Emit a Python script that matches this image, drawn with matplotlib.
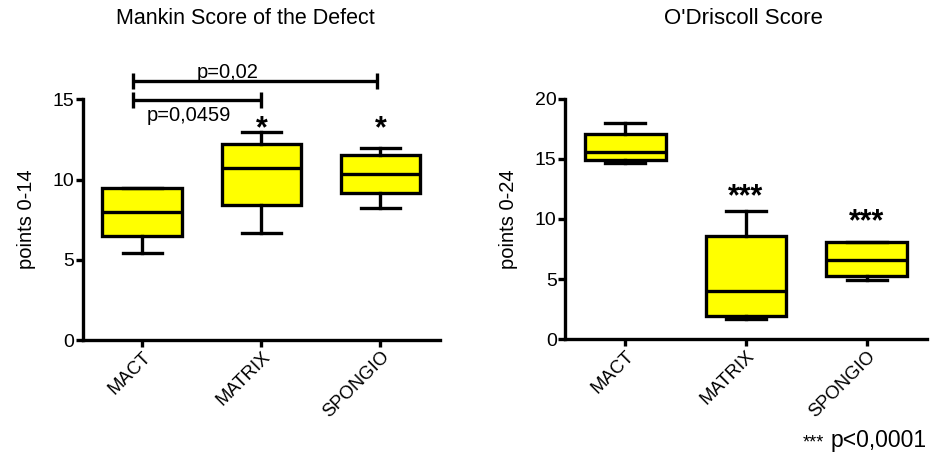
import matplotlib
matplotlib.use("Agg")
import matplotlib.pyplot as plt

plt.rcParams['font.family'] = ['Liberation Sans', 'DejaVu Sans']

groups = ['MACT', 'MATRIX', 'SPONGIO']

# Mankin score (points 0-14): box statistics
mankin_whislo = [5.45, 6.7, 8.25]
mankin_q1 = [6.5, 8.4, 9.15]
mankin_med = [8.0, 10.7, 10.35]
mankin_q3 = [9.5, 12.2, 11.55]
mankin_whishi = [9.5, 12.95, 11.95]

# O'Driscoll score (points 0-24)
odris_whislo = [14.7, 1.65, 4.95]
odris_q1 = [14.95, 1.95, 5.25]
odris_med = [15.6, 4.0, 6.6]
odris_q3 = [17.05, 8.55, 8.05]
odris_whishi = [18.0, 10.7, 8.05]

# significance marks and where they sit
mankin_stars = ['', '*', '*']
mankin_star_y = [0, 13.5, 13.5]
odris_stars = ['', '***', '***']
odris_star_y = [0, 12.3, 10.2]


def make_stats(lo, q1, med, q3, hi):
    return [dict(whislo=a, q1=b, med=c, q3=d, whishi=e, fliers=[])
            for a, b, c, d, e in zip(lo, q1, med, q3, hi)]


def draw_box(ax, stats):
    lw = 2.4
    ax.bxp(stats, positions=[1, 2, 3], widths=0.667, patch_artist=True,
           showfliers=False,
           boxprops=dict(facecolor='#ffff00', edgecolor='black', linewidth=lw),
           medianprops=dict(color='black', linewidth=lw),
           whiskerprops=dict(color='black', linewidth=lw),
           capprops=dict(color='black', linewidth=lw),
           capwidths=0.33)
    ax.set_xlim(0.5, 3.5)
    ax.spines['top'].set_visible(False)
    ax.spines['right'].set_visible(False)
    for s in ['left', 'bottom']:
        ax.spines[s].set_linewidth(2.4)
    ax.tick_params(width=2.4, length=5, labelsize=14, pad=1)
    ax.set_xticks([1, 2, 3])
    ax.set_xticklabels(groups, rotation=45, ha='right', rotation_mode='anchor',
                       fontsize=13.3)


def stars(ax, marks, ys, offset):
    # glyph centre sits about `offset` data units above the baseline
    for i, s in enumerate(marks):
        if s:
            ax.text(i + 1, ys[i] - offset, s, ha='center', va='baseline',
                    fontsize=22, fontweight='bold')


fig = plt.figure(figsize=(9.33, 4.62), dpi=100)
ax1 = fig.add_axes([0.0886, 0.264, 0.383, 0.521])
ax2 = fig.add_axes([0.6056, 0.266, 0.388, 0.520])

# left panel
draw_box(ax1, make_stats(mankin_whislo, mankin_q1, mankin_med, mankin_q3, mankin_whishi))
ax1.set_ylim(0, 15)
ax1.set_yticks([0, 5, 10, 15])
ax1.set_ylabel('points 0-14', fontsize=14.5, labelpad=12)
stars(ax1, mankin_stars, mankin_star_y, 0.85)

# significance brackets
kw = dict(color='black', linewidth=2.4, clip_on=False, solid_capstyle='butt')
for x0, x1, y in [(0.92, 2.97, 16.15), (0.92, 2.0, 14.95)]:
    ax1.plot([x0, x1], [y, y], **kw)
    ax1.plot([x0, x0], [y - 0.5, y + 0.5], **kw)
    ax1.plot([x1, x1], [y - 0.5, y + 0.5], **kw)
ax1.text(1.72, 16.3, 'p=0,02', ha='center', va='baseline', fontsize=14.5,
         clip_on=False)
ax1.text(1.39, 14.6, 'p=0,0459', ha='center', va='top', fontsize=14.5,
         clip_on=False)

# right panel
draw_box(ax2, make_stats(odris_whislo, odris_q1, odris_med, odris_q3, odris_whishi))
ax2.set_ylim(0, 20)
ax2.set_yticks([0, 5, 10, 15, 20])
ax2.set_ylabel('points 0-24', fontsize=14.5, labelpad=12)
stars(ax2, odris_stars, odris_star_y, 1.12)

fig.text(245 / 933, 1 - 18 / 462, 'Mankin Score of the Defect', ha='center',
         va='center', fontsize=15.5)
fig.text(743 / 933, 1 - 18 / 462, "O'Driscoll Score", ha='center',
         va='center', fontsize=16)
fig.text(803 / 933, 1 - 447 / 462, '***', ha='left', va='baseline',
         fontsize=13)
fig.text(927 / 933, 1 - 447 / 462, 'p<0,0001', ha='right', va='baseline',
         fontsize=16.5)

fig.savefig('out.png', dpi=100)
